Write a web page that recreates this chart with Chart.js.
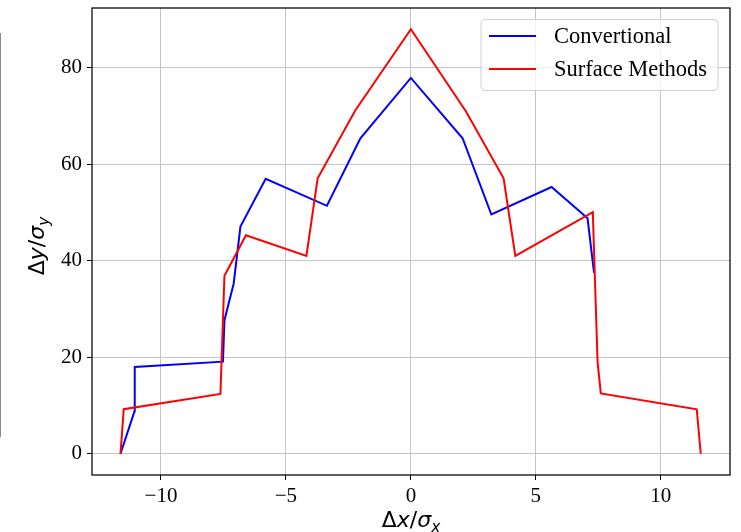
<!DOCTYPE html>
<html>
<head>
<meta charset="utf-8">
<script src="https://cdn.jsdelivr.net/npm/chart.js@4.4.0/dist/chart.umd.min.js"></script>
<style>
  html, body { margin: 0; padding: 0; background: #fff; }
  #wrap { position: relative; width: 741px; height: 532px; overflow: hidden; }
  #edge { position: absolute; left: 0; top: 33px; width: 1px; height: 404px; background: #8a8a8a; }
</style>
</head>
<body>
<div id="wrap">
  <canvas id="chart" width="741" height="532"></canvas>
  <div id="edge"></div>
</div>
<script>
// ── Data ──────────────────────────────────────────────────────────
const convX = [-11.62, -11.06, -11.05, -7.52, -7.46, -7.09, -6.82, -5.81, -3.36, -2.02, 0, 2.07, 3.22, 5.63, 7.07, 7.33];
const convY = [0, 8.8, 18.0, 19.1, 27.7, 35.3, 47.1, 57.0, 51.4, 65.4, 77.9, 65.4, 49.6, 55.3, 48.8, 37.5];

const surfX = [-11.62, -11.49, -7.62, -7.46, -6.6, -4.18, -3.73, -2.22, 0, 2.2, 3.71, 4.18, 7.28, 7.47, 7.6, 11.44, 11.6];
const surfY = [0, 9.25, 12.4, 36.9, 45.3, 41.0, 57.1, 71.2, 88.0, 71.0, 57.1, 41.0, 50.1, 19.1, 12.5, 9.2, 0];

const xTicks = [-10, -5, 0, 5, 10];
const yTicks = [0, 20, 40, 60, 80];

const SERIF = '"Liberation Serif", "Times New Roman", serif';
const SANS = '"DejaVu Sans", sans-serif';

const toPoints = (xs, ys) => xs.map((x, i) => ({ x, y: ys[i] }));

// ── Axis title with italic letters and subscript ─────────────────
function mathParts(v) {
  return [
    { t: "Δ", it: false, sub: false },
    { t: v, it: true, sub: false },
    { t: "/", it: false, sub: false },
    { t: "σ", it: true, sub: false },
    { t: v, it: true, sub: true },
  ];
}

function drawMath(ctx, parts, cx, baseline, size) {
  const fontOf = p => `${p.it ? "italic " : ""}${p.sub ? size * 0.7 : size}px ${SANS}`;
  let total = 0;
  parts.forEach(p => { ctx.font = fontOf(p); p.w = ctx.measureText(p.t).width; total += p.w; });
  let x = cx - total / 2;
  ctx.textAlign = "left";
  ctx.textBaseline = "alphabetic";
  parts.forEach(p => {
    ctx.font = fontOf(p);
    ctx.fillText(p.t, x, baseline + (p.sub ? size * 0.22 : 0));
    x += p.w;
  });
}

// ── Frame, titles, legend ─────────────────────────────────────────
const decor = {
  id: "decor",
  afterDraw(chart) {
    const ctx = chart.ctx;
    const a = chart.chartArea;
    ctx.save();

    // axes frame
    ctx.strokeStyle = "#000";
    ctx.lineWidth = 1.25;
    ctx.strokeRect(a.left, a.top, a.right - a.left, a.bottom - a.top);

    // axis titles
    ctx.fillStyle = "#000";
    drawMath(ctx, mathParts("x"), (a.left + a.right) / 2, 527, 22);
    ctx.save();
    ctx.translate(44, 246);
    ctx.rotate(-Math.PI / 2);
    drawMath(ctx, mathParts("y"), 0, 0, 22);
    ctx.restore();

    // legend
    const bx = 481, by = 19.5, bw = 237, bh = 71, r = 4;
    ctx.beginPath();
    ctx.roundRect(bx, by, bw, bh, r);
    ctx.fillStyle = "rgba(255,255,255,0.8)";
    ctx.fill();
    ctx.strokeStyle = "#d0d0d0";
    ctx.lineWidth = 1;
    ctx.stroke();

    chart.data.datasets.slice().sort((p, q) => p.legendIndex - q.legendIndex).forEach((ds, i) => {
      const y = 36 + i * 33;
      ctx.strokeStyle = ds.borderColor;
      ctx.lineWidth = 2;
      ctx.beginPath();
      ctx.moveTo(489, y);
      ctx.lineTo(536, y);
      ctx.stroke();
      ctx.fillStyle = "#000";
      ctx.font = `22.5px ${SERIF}`;
      ctx.textAlign = "left";
      ctx.textBaseline = "middle";
      ctx.fillText(ds.label, 554, y + 1);
    });
    ctx.restore();
  },
};

new Chart(document.getElementById("chart"), {
  type: "line",
  data: {
    datasets: [
      {
        label: "Surface Methods",
        legendIndex: 1,
        data: toPoints(surfX, surfY),
        borderColor: "#ff0000",
        borderWidth: 2,
        pointRadius: 0,
        tension: 0,
        order: 1,
      },
      {
        label: "Convertional",
        legendIndex: 0,
        data: toPoints(convX, convY),
        borderColor: "#0000ff",
        borderWidth: 2,
        pointRadius: 0,
        tension: 0,
        order: 2,
      },
    ],
  },
  options: {
    responsive: false,
    animation: false,
    layout: { padding: { top: 8, right: 11, left: 0, bottom: 0 } },
    plugins: { legend: { display: false }, tooltip: { enabled: false } },
    scales: {
      x: {
        type: "linear",
        min: -12.76,
        max: 12.77,
        afterBuildTicks: s => { s.ticks = xTicks.map(v => ({ value: v })); },
        afterFit: s => { s.height = 57; s.paddingLeft = 0; s.paddingRight = 0; },
        ticks: {
          font: { family: SERIF, size: 21 },
          color: "#000",
          padding: 4,
          maxRotation: 0,
          callback: v => (v < 0 ? "\u2212" + Math.abs(v) : String(v)),
        },
        grid: { color: "#c4c4c4", lineWidth: 1, tickColor: "#000", tickLength: 5 },
        border: { display: false },
      },
      y: {
        type: "linear",
        min: -4.4,
        max: 92.4,
        afterBuildTicks: s => { s.ticks = yTicks.map(v => ({ value: v })); },
        afterFit: s => { s.width = 92; s.paddingTop = 0; s.paddingBottom = 0; },
        ticks: {
          font: { family: SERIF, size: 21 },
          color: "#000",
          padding: 5,
        },
        grid: { color: "#c4c4c4", lineWidth: 1, tickColor: "#000", tickLength: 5 },
        border: { display: false },
      },
    },
  },
  plugins: [decor],
});
</script>
</body>
</html>
